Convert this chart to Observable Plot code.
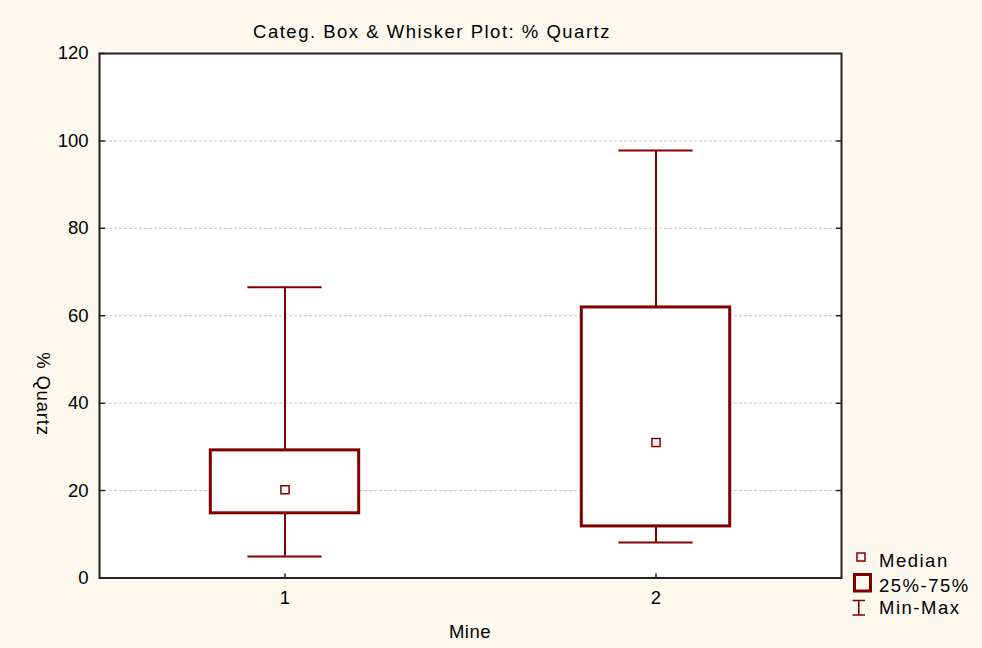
<!DOCTYPE html>
<html>
<head>
<meta charset="utf-8">
<script src="https://cdn.jsdelivr.net/npm/d3@7"></script>
<script src="https://cdn.jsdelivr.net/npm/@observablehq/plot@0.6"></script>
<style>
  html, body { margin: 0; padding: 0; background: #fdf9ef; }
  #wrap { position: relative; width: 982px; height: 648px; background: #fdf9ef; overflow: hidden;
          font-family: "Liberation Sans", Arial, sans-serif; color: #000; }
  #wrap svg.plotsvg { position: absolute; left: 0; top: 0; }
  .lbl { position: absolute; transform: translate(-50%, -50%); white-space: nowrap; line-height: 1; font-size: 18.5px; }
</style>
</head>
<body>
<div id="wrap">
  <div class="lbl" id="title" style="left:432px; top:32px; letter-spacing:1.5px;">Categ. Box &amp; Whisker Plot: % Quartz</div>
  <div class="lbl" id="ylab" style="left:43px; top:394px; transform: translate(-50%,-50%) rotate(90deg); letter-spacing:0.8px;">% Quartz</div>
  <div class="lbl" id="xlab" style="left:470px; top:632px; letter-spacing:0.5px;">Mine</div>
</div>
<script>
// ---- data ----
const mines   = [1, 2];
const minVals = [4.9, 8.1];
const q1Vals  = [14.8, 11.8];
const medVals = [20.2, 31.0];
const q3Vals  = [29.2, 61.9];
const maxVals = [66.5, 97.8];
const yTicks    = [0, 20, 40, 60, 80, 100, 120];
const gridTicks = [20, 40, 60, 80, 100];
const legendLabels = ["Median", "25%-75%", "Min-Max"];

const data = mines.map((m, i) => ({
  mine: m, min: minVals[i], q1: q1Vals[i], med: medVals[i], q3: q3Vals[i], max: maxVals[i]
}));

const red = "#800000";
const halfBox = 0.2, halfCap = 0.1;
const tickShape = { draw(ctx, l) { ctx.moveTo(0, 0); ctx.lineTo(0, -l); } };

const chart = Plot.plot({
  width: 982, height: 648,
  marginLeft: 99, marginRight: 141, marginTop: 53, marginBottom: 70.5,
  style: { background: "transparent", fontFamily: "Liberation Sans, Arial, sans-serif", fontSize: "18.5px", color: "#000" },
  x: { domain: [0.5, 2.5] },
  y: { domain: [0, 120] },
  marks: [
    Plot.frame({ fill: "white" }),
    Plot.ruleY(gridTicks, { stroke: "#c4c4c4", strokeDasharray: "3,2", strokeWidth: 1 }),
    Plot.ruleX(data, { x: "mine", y1: "q3", y2: "max", stroke: red, strokeWidth: 2 }),
    Plot.ruleX(data, { x: "mine", y1: "min", y2: "q1", stroke: red, strokeWidth: 2 }),
    Plot.ruleY(data, { y: "max", x1: d => d.mine - halfCap, x2: d => d.mine + halfCap, stroke: red, strokeWidth: 2 }),
    Plot.ruleY(data, { y: "min", x1: d => d.mine - halfCap, x2: d => d.mine + halfCap, stroke: red, strokeWidth: 2 }),
    Plot.rect(data, { x1: d => d.mine - halfBox, x2: d => d.mine + halfBox, y1: "q1", y2: "q3", fill: "white", stroke: red, strokeWidth: 3 }),
    Plot.dot(data, { x: "mine", y: "med", symbol: "square", r: 4.6, stroke: red, strokeWidth: 1.5, fill: "white" }),
    Plot.axisY(yTicks, { anchor: "left", tickSize: 0, tickPadding: 11, label: null, style: {letterSpacing: "0.7px"} }),
    Plot.axisX(mines, { anchor: "bottom", tickSize: 0, tickPadding: 13, label: null, tickFormat: d => String(d) }),
    Plot.vector(yTicks, { y: d => d, frameAnchor: "left", shape: tickShape, length: 5, rotate: 90, anchor: "start", stroke: "#222", strokeWidth: 1.5 }),
    Plot.vector(gridTicks, { y: d => d, frameAnchor: "right", shape: tickShape, length: 5, rotate: -90, anchor: "start", stroke: "#222", strokeWidth: 1.5 }),
    Plot.vector(mines, { x: d => d, frameAnchor: "bottom", shape: tickShape, length: 4, rotate: 0, anchor: "start", stroke: "#222", strokeWidth: 1.5 }),
    Plot.frame({ stroke: "#222", strokeWidth: 2 })
  ]
});
chart.classList.add("plotsvg");
const wrap = document.getElementById("wrap");
wrap.insertBefore(chart, wrap.firstChild);

// ---- legend ----
const ns = "http://www.w3.org/2000/svg";
const leg = document.createElementNS(ns, "svg");
leg.setAttribute("width", 982); leg.setAttribute("height", 648);
leg.style.position = "absolute"; leg.style.left = "0"; leg.style.top = "0";
leg.innerHTML = `
  <rect x="857" y="553" width="8" height="8" fill="#fdf9ef" stroke="${red}" stroke-width="1.5"/>
  <rect x="854.5" y="574.5" width="16" height="16.5" fill="none" stroke="${red}" stroke-width="3"/>
  <path d="M852.5,600.5 H865 M858.75,600.5 V615 M852.5,615 H865" fill="none" stroke="${red}" stroke-width="1.6"/>
  <g font-family="Liberation Sans, Arial, sans-serif" font-size="18.5" fill="#000" style="letter-spacing:1.5px">
    <text x="879" y="566.5">${legendLabels[0]}</text>
    <text x="879" y="592">${legendLabels[1]}</text>
    <text x="879" y="613.8">${legendLabels[2]}</text>
  </g>`;
wrap.appendChild(leg);
</script>
</body>
</html>
